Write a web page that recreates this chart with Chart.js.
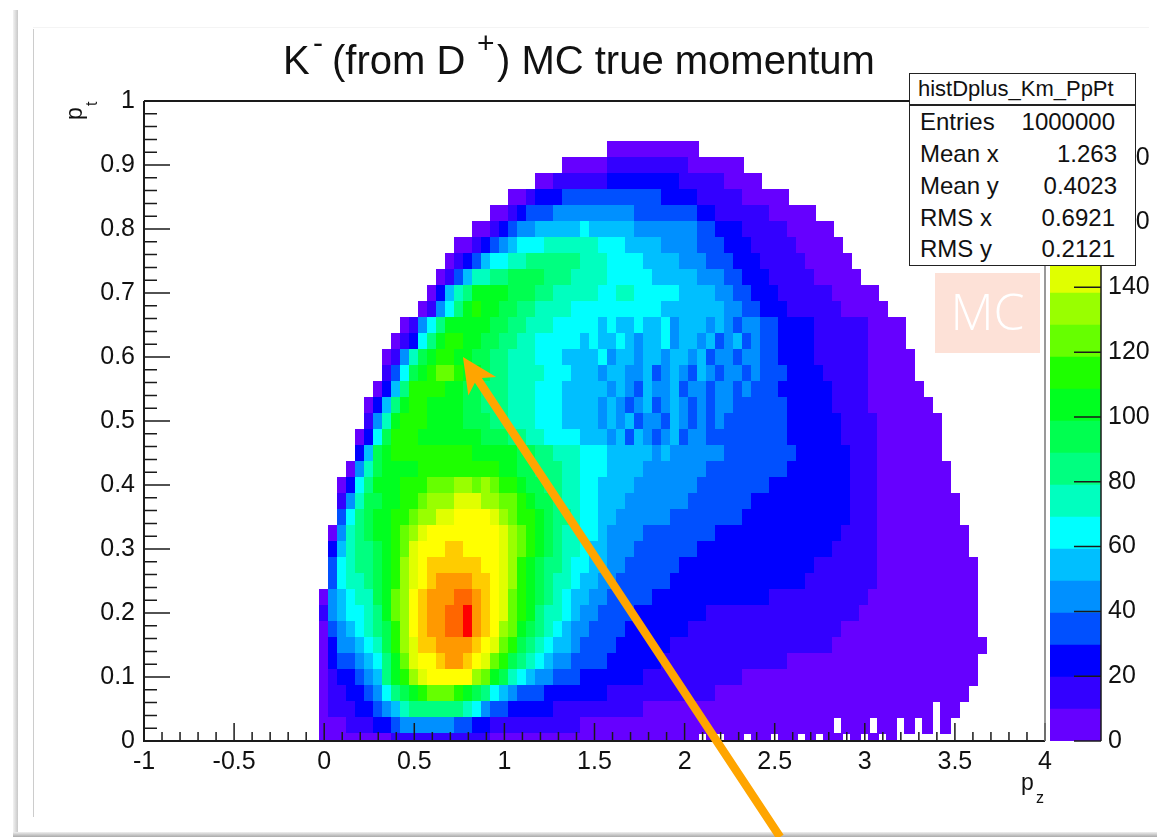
<!DOCTYPE html>
<html>
<head>
<meta charset="utf-8">
<title>K- MC true momentum</title>
<script src="https://cdn.jsdelivr.net/npm/chart.js@4/dist/chart.umd.min.js"></script>
<style>
html, body { margin: 0; padding: 0; background: #fff; }
body { width: 1157px; height: 837px; position: relative; overflow: hidden; font-family: "Liberation Sans", Arial, sans-serif; color: #111; }
canvas { position: absolute; top: 0; }
.txt { position: absolute; white-space: nowrap; line-height: 1; }
#outerLeft { position: absolute; left: 13px; top: 10px; width: 5px; bottom: 2px; background: linear-gradient(to right, #f2f2f2, #c8c8c8); }
#outerBottom { position: absolute; left: 13px; right: 0; bottom: 0; height: 5px; background: linear-gradient(to bottom, #eee, #aaa); }
#innerLeft { position: absolute; left: 33px; top: 29px; width: 1px; height: 788px; background: #ccc; }
#innerTop { position: absolute; left: 33px; top: 27px; right: 8px; height: 1px; background: #f4f4f4; }
#statsBox { position: absolute; left: 909px; top: 73px; width: 225px; height: 191px; background: #fff; border: 1.5px solid #222; z-index: 5; font-size: 24px; }
#statsBox .line { position: absolute; left: 0; right: 0; top: 30px; height: 1.5px; background: #222; }
#mcBox { position: absolute; left: 935px; top: 273px; width: 105px; height: 80px; background: #fde1d7; color: #fff; font-size: 50px; z-index: 4; text-align: center; line-height: 76px; font-family: "Open Sans", "Liberation Sans", sans-serif; font-weight: 300; }
</style>
</head>
<body>
<div id="outerLeft"></div>
<div id="outerBottom"></div>
<div id="innerLeft"></div>
<div id="innerTop"></div>
<canvas id="histCanvas" width="1157" height="837" style="left:0"></canvas>
<canvas id="paletteCanvas" width="117" height="837" style="left:1040px"></canvas>

<div class="txt" style="left:283px;top:40px;font-size:40px">K</div>
<div class="txt" style="left:313px;top:28px;font-size:30px">-</div>
<div class="txt" style="left:332px;top:40px;font-size:40px">(from D</div>
<div class="txt" style="left:477px;top:28px;font-size:30px">+</div>
<div class="txt" style="left:497px;top:40px;font-size:40px">) MC true momentum</div>

<div class="txt" style="left:1021px;top:771px;font-size:23px">p</div>
<div class="txt" style="left:1036px;top:790px;font-size:16px">z</div>
<div class="txt" style="left:63px;top:120px;font-size:23px;transform:rotate(-90deg);transform-origin:left top">p</div>
<div class="txt" style="left:84px;top:106px;font-size:16px;transform:rotate(-90deg);transform-origin:left top">t</div>

<div id="statsBox">
  <div class="txt" style="left:8px;top:4px;font-size:22px">histDplus_Km_PpPt</div>
  <div class="line"></div>
  <div class="txt" style="left:10px;top:36px">Entries</div><div class="txt" style="right:20px;top:36px">1000000</div>
  <div class="txt" style="left:10px;top:68px">Mean x</div><div class="txt" style="right:18px;top:68px">1.263</div>
  <div class="txt" style="left:10px;top:100px">Mean y</div><div class="txt" style="right:18px;top:100px">0.4023</div>
  <div class="txt" style="left:10px;top:132px">RMS x</div><div class="txt" style="right:20px;top:132px">0.6921</div>
  <div class="txt" style="left:10px;top:163px">RMS y</div><div class="txt" style="right:20px;top:163px">0.2121</div>
</div>
<div id="mcBox">MC</div>

<script>
// bin contents, one list per pt row, 0.05 wide in pz
const pt925 = [5,5,5,5,5,5,5,5,5,5];
const pt900 = [5,5,5,5,5,10,10,15,15,15,15,15,10,10,5,5,5,5,5,5];
const pt875 = [5,5,10,15,15,15,15,15,20,20,25,25,25,25,25,20,15,15,15,10,10,5,5,5,5];
const pt850 = [5,5,15,25,25,25,30,30,30,35,30,35,35,35,35,35,30,25,25,25,25,15,15,15,15,10,5,5,5,5,5];
const pt825 = [5,5,15,25,35,35,35,45,45,40,45,45,45,45,45,40,35,35,35,35,35,35,30,25,25,15,15,15,15,10,10,5,5,5,5,5];
const pt800 = [5,5,15,25,35,45,45,50,50,55,55,55,60,55,55,55,50,50,45,45,45,45,45,40,40,35,30,25,25,20,15,15,15,10,10,5,5,5,5,5];
const pt775 = [5,5,15,25,35,45,55,60,65,65,70,70,70,75,75,70,65,60,60,55,55,50,50,45,45,45,40,35,35,30,25,25,20,15,15,15,10,10,5,5,5,5,5];
const pt750 = [5,10,20,35,50,60,65,70,75,80,80,85,85,80,80,75,70,70,65,65,60,60,55,55,50,50,45,45,40,35,35,30,25,20,20,15,15,10,10,10,5,5,5,5,5];
const pt725 = [5,15,35,55,70,75,80,85,90,90,95,90,85,85,80,75,75,70,70,65,65,65,60,60,55,55,55,50,50,45,40,40,35,30,25,20,20,15,15,10,10,10,5,5,5,5,5];
const pt700 = [5,20,50,70,85,100,105,105,100,95,90,90,85,80,75,75,70,70,70,65,65,70,70,65,60,60,60,65,55,55,50,50,45,40,35,30,25,20,20,15,15,10,10,10,10,5,5,5,5,5];
const pt675 = [5,15,40,65,85,105,110,105,100,95,90,85,80,75,70,70,70,65,65,65,65,65,65,60,60,60,60,55,55,55,55,50,50,50,45,40,35,30,25,20,20,15,15,15,10,10,10,5,5,5,5,5];
const pt650 = [5,15,40,65,85,100,105,105,105,105,95,90,85,80,75,70,70,65,65,60,60,65,55,60,50,55,65,50,55,60,45,55,50,55,45,50,45,35,45,40,35,30,25,25,20,20,15,15,15,10,10,10,5,5,5,5];
const pt625 = [5,15,25,65,85,105,110,110,105,100,95,90,85,80,75,70,65,65,60,60,60,55,60,50,55,65,50,45,55,50,60,45,50,55,45,50,35,45,50,35,40,35,30,25,25,20,20,15,15,15,10,10,10,5,5,5,5];
const pt600 = [5,15,40,70,90,105,110,110,105,100,95,90,85,80,75,70,70,65,60,60,55,55,55,50,60,45,50,55,45,55,50,45,55,50,45,50,35,45,45,35,40,45,35,30,25,25,20,20,15,15,15,10,10,10,5,5,5,5,5];
const pt575 = [10,30,65,90,105,115,120,120,115,105,100,90,85,80,75,70,70,70,65,60,60,55,55,55,45,50,55,45,45,50,35,45,55,45,35,50,45,35,45,45,35,40,35,35,30,25,25,20,20,15,15,15,10,10,5,5,5,5,5];
const pt550 = [5,25,55,85,110,115,115,110,105,100,95,90,85,80,80,75,70,70,65,65,60,55,55,50,50,55,45,50,45,35,50,45,45,55,35,45,45,35,45,45,35,40,35,35,35,25,25,25,20,20,20,15,15,10,10,5,5,5,5,5,5];
const pt525 = [5,20,50,85,105,110,110,105,105,100,100,95,90,85,80,80,75,70,70,65,60,60,55,50,50,50,45,50,45,35,45,50,35,45,50,45,35,45,35,45,40,35,35,30,35,30,30,25,25,20,20,20,15,15,15,10,5,5,5,5,5,5,5];
const pt500 = [10,40,75,105,110,110,110,105,105,100,100,95,95,90,85,85,75,75,70,65,65,60,55,55,55,55,45,50,45,50,35,45,45,35,50,45,35,45,35,40,35,35,30,35,35,30,30,25,25,25,20,20,20,15,15,10,10,5,5,5,5,5,5,5];
const pt475 = [5,25,60,95,110,110,110,105,105,105,105,100,100,100,95,90,90,85,80,75,70,65,65,60,60,55,55,50,45,50,35,55,45,35,45,50,35,45,40,35,35,30,35,35,30,30,30,30,25,25,25,25,20,20,15,15,10,10,5,5,5,5,5,5,5];
const pt450 = [20,55,90,105,110,110,110,110,110,110,110,110,110,105,105,105,100,100,90,90,85,80,75,75,70,65,65,60,55,50,50,50,50,45,50,45,45,40,40,40,40,35,35,35,30,30,30,30,30,25,25,25,20,20,20,15,10,10,5,5,5,5,5,5,5];
const pt425 = [5,40,75,95,100,105,105,105,110,110,115,115,115,115,115,115,110,105,100,95,95,85,80,80,75,70,65,60,60,55,50,50,50,45,45,45,45,45,40,40,35,35,35,30,30,30,30,30,30,25,25,25,25,25,20,20,15,15,10,5,5,5,5,5,5,5,5];
const pt400 = [5,25,60,85,100,105,105,110,110,115,120,125,125,130,130,125,130,120,115,110,105,95,90,85,80,75,70,65,60,55,50,50,50,45,45,45,45,45,45,40,35,35,35,30,30,30,30,30,25,25,25,25,25,25,20,20,20,15,15,10,5,5,5,5,5,5,5,5];
const pt375 = [15,45,70,90,95,100,100,110,115,125,130,135,135,140,140,140,135,130,125,120,110,105,95,90,85,75,70,65,60,55,50,50,45,45,45,40,40,40,40,35,35,35,35,30,30,30,25,25,25,25,25,25,20,20,20,20,20,15,15,10,5,5,5,5,5,5,5,5,5];
const pt350 = [30,65,80,95,100,105,110,115,125,130,135,145,145,150,150,150,150,145,135,125,115,110,100,90,85,80,70,65,60,55,50,45,45,40,40,40,40,35,35,35,35,30,30,30,30,25,25,25,20,20,20,20,20,20,20,20,20,15,15,10,5,5,5,5,5,5,5,5,5];
const pt325 = [5,40,70,80,90,100,105,110,120,130,140,150,150,155,155,150,155,155,150,140,130,120,110,100,90,85,75,70,60,60,50,45,45,40,40,35,35,35,35,30,30,30,30,25,25,25,25,25,25,20,20,20,20,20,20,20,20,15,15,15,10,5,5,5,5,5,5,5,5,5,5];
const pt300 = [20,55,75,85,85,95,105,110,125,140,150,155,155,160,160,155,155,155,150,145,135,120,110,100,90,85,75,70,60,55,50,45,40,40,35,35,35,30,30,30,30,25,25,25,25,25,25,20,20,20,20,20,20,20,20,20,15,15,15,10,10,5,5,5,5,5,5,5,5,5,5];
const pt275 = [30,60,70,80,85,95,100,110,130,145,155,160,160,165,165,160,160,155,150,145,135,115,105,95,85,80,70,65,60,55,50,40,40,35,35,35,30,30,30,25,25,25,25,25,25,20,20,20,20,20,20,20,20,20,15,15,15,15,15,10,10,5,5,5,5,5,5,5,5,5,5,5];
const pt250 = [35,60,70,75,80,90,105,115,135,145,155,165,170,170,170,170,165,160,150,145,130,115,105,95,85,75,70,65,55,50,45,40,35,35,30,30,30,30,25,25,25,25,20,20,20,20,20,20,20,20,20,20,20,15,15,15,15,15,15,10,10,5,5,5,5,5,5,5,5,5,5,5];
const pt225 = [5,40,55,65,70,75,90,105,120,135,150,160,170,175,175,180,185,170,165,155,140,125,115,105,90,80,75,65,55,50,45,40,35,35,30,30,30,25,25,25,20,20,20,20,20,20,20,20,20,20,15,15,15,15,15,15,15,15,15,10,10,5,5,5,5,5,5,5,5,5,5,5,5];
const pt200 = [10,40,50,60,65,75,85,100,120,135,150,165,170,175,180,185,190,175,165,155,140,125,110,100,85,75,70,60,50,45,40,35,35,30,30,25,25,25,25,20,20,20,20,15,15,15,15,15,15,15,15,15,15,15,15,15,15,10,10,10,5,5,5,5,5,5,5,5,5,5,5,5,5];
const pt175 = [5,30,40,50,60,70,80,95,115,135,150,165,170,175,180,180,190,170,165,155,135,120,105,90,80,70,60,50,45,40,35,35,30,30,25,25,25,20,20,20,20,15,15,15,15,15,15,15,15,15,15,15,15,10,10,10,10,10,5,5,5,5,5,5,5,5,5,5,5,5,5,5,5];
const pt150 = [5,25,40,45,55,65,75,90,110,130,145,160,165,170,175,175,175,165,150,140,125,110,95,85,70,60,55,50,40,35,35,30,30,25,25,25,20,20,20,15,15,15,15,15,15,15,15,15,15,15,10,10,10,10,10,10,10,5,5,5,5,5,5,5,5,5,5,5,5,5,5,5,5,5];
const pt125 = [5,20,30,35,40,55,65,85,105,125,140,150,155,165,170,170,165,155,145,125,115,95,85,70,60,50,45,40,35,35,30,30,25,25,25,20,20,20,15,15,15,15,15,15,15,15,10,10,10,10,10,10,5,5,5,5,5,5,5,5,5,5,5,5,5,5,5,5,5,5,5,5,5];
const pt100 = [5,15,20,25,30,40,55,80,100,115,130,145,150,155,155,150,150,135,125,105,90,75,60,50,45,40,35,30,30,25,25,25,25,20,20,20,15,15,15,15,15,15,15,10,10,10,10,5,5,5,5,5,5,5,5,5,5,5,5,5,5,5,5,5,5,5,5,5,5,5,5,5,5];
const pt075 = [5,10,15,20,25,30,40,60,80,95,105,115,120,120,120,115,105,90,80,65,50,40,35,30,30,25,25,25,20,20,20,20,15,15,15,15,15,10,10,10,10,10,10,10,5,5,5,5,5,5,5,5,5,5,5,5,5,5,5,5,5,5,5,5,5,5,5,5,5,5,5,5];
const pt050 = [5,10,15,15,20,25,30,40,55,70,80,85,85,85,85,80,70,60,45,35,30,25,25,20,20,20,15,15,15,15,15,10,10,10,10,10,5,5,5,5,5,5,5,5,5,5,5,5,5,5,5,5,5,5,5,5,5,5,5,5,5,5,5,5,5,5,5,5,0,5,5];
const pt025 = [5,5,5,10,10,15,20,25,30,40,45,45,45,40,40,35,30,25,20,15,15,15,15,10,10,10,10,10,10,5,5,5,5,5,5,5,5,5,5,5,5,5,5,5,5,5,5,5,5,5,5,5,5,5,5,5,5,0,5,5,5,0,5,5,0,5,0,5,0,5];
const pt000 = [5,5,5,5,5,5,5,5,10,10,10,10,10,10,10,10,10,10,10,5,5,5,5,5,5,5,5,5,5,5,5,5,5,5,5,5,5,5,5,5,5,5,0,5,0,5,5,0,5,5,0,5,5,0,5,0,5,5,0,5,0,5,0,5,0];

const ptRows = [0.925, 0.9, 0.875, 0.85, 0.825, 0.8, 0.775, 0.75, 0.725, 0.7, 0.675, 0.65, 0.625, 0.6, 0.575, 0.55, 0.525, 0.5, 0.475, 0.45, 0.425, 0.4, 0.375, 0.35, 0.325, 0.3, 0.275, 0.25, 0.225, 0.2, 0.175, 0.15, 0.125, 0.1, 0.075, 0.05, 0.025, 0];
const pzStarts = [1.6, 1.35, 1.2, 1.05, 0.95, 0.85, 0.75, 0.7, 0.65, 0.6, 0.55, 0.45, 0.4, 0.35, 0.35, 0.3, 0.25, 0.25, 0.2, 0.2, 0.15, 0.1, 0.1, 0.1, 0.05, 0.05, 0.05, 0.05, 0, 0, 0, 0, 0, 0, 0, 0, 0, 0];
const rowValues = [pt925, pt900, pt875, pt850, pt825, pt800, pt775, pt750, pt725, pt700, pt675, pt650, pt625, pt600, pt575, pt550, pt525, pt500, pt475, pt450, pt425, pt400, pt375, pt350, pt325, pt300, pt275, pt250, pt225, pt200, pt175, pt150, pt125, pt100, pt075, pt050, pt025, pt000];

// palette contours, lower edge of each band
const zEdges = [0, 9.875, 19.75, 29.625, 39.5, 49.375, 59.25, 69.125, 79, 88.875, 98.75, 108.625, 118.5, 128.375, 138.25, 148.125, 158, 167.875, 177.75, 187.625, 197.5];
const zColors = ['#6600ff', '#3300ff', '#0000ff', '#0050ff', '#0090ff', '#00bfff', '#00ffff', '#00ffbf', '#00ff80', '#00ff50', '#00ff20', '#1eff00', '#66ff00', '#99ff00', '#e0ff00', '#ffff00', '#ffcc00', '#ff9900', '#ff6600', '#ff0000'];

const pzTicks = ['-1', '-0.5', '0', '0.5', '1', '1.5', '2', '2.5', '3', '3.5', '4'];
const arrowFrom = { pz: 2.53, pt: -0.15 };
const arrowTip = { pz: 0.77, pt: 0.6 };

const PZ_BIN = 0.05;
const PT_BIN = 0.025;
const INK = '#1a1a1a';

function bandOf(z) {
    let i = 0;
    while (i < zColors.length - 1 && z >= zEdges[i + 1]) i++;
    return i;
}

// build the cell list from the rows
const cells = [];
ptRows.forEach((pt, r) => {
    rowValues[r].forEach((z, i) => {
        if (z > 0) cells.push({ x: pzStarts[r] + i * PZ_BIN, y: pt, z: z });
    });
});

// one small canvas per palette band, sized from the scales
// options get resolved once before the layout, so nothing is cached until the scales are ready
const cellImages = {};
function cellImage(chart, z) {
    if (!chart.chartArea) return 'rect';
    const xs = chart.scales.x, ys = chart.scales.y;
    const w = Math.ceil(Math.abs(xs.getPixelForValue(PZ_BIN) - xs.getPixelForValue(0))) + 1;
    const h = Math.ceil(Math.abs(ys.getPixelForValue(PT_BIN) - ys.getPixelForValue(0))) + 1;
    if (!(w > 1) || !(h > 1)) return 'rect';
    const band = bandOf(z);
    if (!cellImages[band]) {
        const c = document.createElement('canvas');
        c.width = w;
        c.height = h;
        const g = c.getContext('2d');
        g.fillStyle = zColors[band];
        g.fillRect(0, 0, w, h);
        cellImages[band] = c;
    }
    return cellImages[band];
}

// frame, ROOT style inward ticks and the arrow
const rootFrame = {
    id: 'rootFrame',
    afterDatasetsDraw(chart) {
        const { ctx, scales: { x, y }, chartArea: a } = chart;
        ctx.save();
        ctx.strokeStyle = INK;
        ctx.lineWidth = 1.5;
        ctx.beginPath();
        for (let i = 0; i <= 50; i++) {
            const px = x.getPixelForValue(-1 + i * 0.1);
            const len = i % 5 === 0 ? 18 : 9;
            ctx.moveTo(px, a.bottom);
            ctx.lineTo(px, a.bottom - len);
        }
        for (let i = 0; i <= 50; i++) {
            const py = y.getPixelForValue(i * 0.02);
            const len = i % 5 === 0 ? 26 : 13;
            ctx.moveTo(a.left, py);
            ctx.lineTo(a.left + len, py);
        }
        ctx.stroke();
        ctx.lineWidth = 2;
        ctx.beginPath();
        ctx.moveTo(a.left, a.top);
        ctx.lineTo(a.left, a.bottom);
        ctx.lineTo(a.right, a.bottom);
        ctx.moveTo(a.left, a.top);
        ctx.lineTo(a.right, a.top);
        ctx.stroke();
        ctx.strokeStyle = '#777';
        ctx.lineWidth = 1.5;
        ctx.beginPath();
        ctx.moveTo(a.right, a.top);
        ctx.lineTo(a.right, a.bottom);
        ctx.stroke();
        ctx.restore();
    },
    afterDraw(chart) {
        const { ctx, scales: { x, y } } = chart;
        const tx = x.getPixelForValue(arrowTip.pz), ty = y.getPixelForValue(arrowTip.pt);
        const fx = x.getPixelForValue(arrowFrom.pz), fy = y.getPixelForValue(arrowFrom.pt);
        const len = Math.hypot(fx - tx, fy - ty);
        const ux = (fx - tx) / len, uy = (fy - ty) / len;
        const along = (d, s) => [tx + ux * d - uy * s, ty + uy * d + ux * s];
        const shape = [[0, 0], [35, 16.7], [28, 4.2], [len, 4.2], [len, -4.2], [28, -4.2], [35, -16.7]];
        ctx.save();
        ctx.fillStyle = '#ffa500';
        ctx.beginPath();
        shape.forEach((p, i) => {
            const q = along(p[0], p[1]);
            if (i === 0) ctx.moveTo(q[0], q[1]); else ctx.lineTo(q[0], q[1]);
        });
        ctx.closePath();
        ctx.fill();
        ctx.restore();
    }
};

Chart.defaults.font.family = '"Liberation Sans", Arial, sans-serif';
Chart.defaults.color = '#111';
Chart.defaults.animation = false;

new Chart(document.getElementById('histCanvas'), {
    type: 'scatter',
    data: {
        datasets: [{
            label: 'histDplus_Km_PpPt',
            data: cells,
            pointRadius: 6,
            pointHoverRadius: 6,
            pointBorderWidth: 0,
            pointStyle: ctx => cellImage(ctx.chart, ctx.raw ? ctx.raw.z : 5)
        }]
    },
    options: {
        responsive: false,
        events: [],
        layout: { autoPadding: false, padding: { left: 0, top: 101, right: 112, bottom: 0 } },
        plugins: { legend: { display: false }, tooltip: { enabled: false } },
        scales: {
            x: {
                type: 'linear', min: -1, max: 4,
                grid: { display: false, drawTicks: false }, border: { display: false },
                afterFit: s => { s.height = 96; },
                afterBuildTicks: s => { s.ticks = pzTicks.map(t => ({ value: Number(t) })); },
                ticks: { font: { size: 25 }, padding: 6, maxRotation: 0, autoSkip: false, callback: v => String(v) }
            },
            y: {
                type: 'linear', min: 0, max: 1,
                grid: { display: false, drawTicks: false }, border: { display: false },
                afterFit: s => { s.width = 144; },
                ticks: { stepSize: 0.1, font: { size: 25 }, padding: 9, callback: v => String(Math.round(v * 10) / 10) }
            }
        }
    },
    plugins: [rootFrame]
});

// colour palette on the right, its own little chart
const paletteTicks = {
    id: 'paletteTicks',
    afterDatasetsDraw(chart) {
        const { ctx, scales: { y }, chartArea: a } = chart;
        ctx.save();
        ctx.strokeStyle = INK;
        ctx.lineWidth = 1.5;
        ctx.beginPath();
        ctx.moveTo(a.right, a.top);
        ctx.lineTo(a.right, a.bottom);
        for (let z = 0; z <= 180; z += 20) {
            const py = y.getPixelForValue(z);
            ctx.moveTo(a.right, py);
            ctx.lineTo(a.right - 27, py);
        }
        ctx.stroke();
        ctx.restore();
    }
};

new Chart(document.getElementById('paletteCanvas'), {
    type: 'bar',
    data: {
        labels: ['z'],
        datasets: zColors.map((color, i) => ({
            data: [[zEdges[i], zEdges[i + 1]]],
            backgroundColor: color,
            barPercentage: 1,
            categoryPercentage: 1,
            grouped: false
        }))
    },
    options: {
        responsive: false,
        events: [],
        layout: { autoPadding: false, padding: { left: 10, top: 101, right: 0, bottom: 96 } },
        plugins: { legend: { display: false }, tooltip: { enabled: false } },
        scales: {
            x: { display: false, stacked: false },
            y: {
                position: 'right', min: 0, max: 197.5,
                grid: { display: false, drawTicks: false }, border: { display: false },
                afterFit: s => { s.width = 56; },
                ticks: { stepSize: 20, font: { size: 25 }, padding: 7, callback: v => (v % 20 === 0 ? String(v) : '') }
            }
        }
    },
    plugins: [paletteTicks]
});
</script>
</body>
</html>
